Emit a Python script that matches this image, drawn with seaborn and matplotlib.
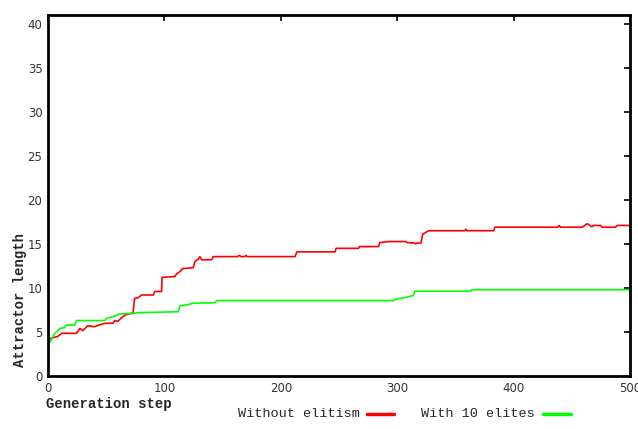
import numpy as np
import pandas as pd
import matplotlib
matplotlib.use("Agg")
import matplotlib.pyplot as plt
import seaborn as sns
from matplotlib.lines import Line2D

# data
gen_no_elite = [0, 3, 8.6, 11.6, 24.4, 27.3, 30, 34, 40, 44, 48.8, 56, 57.4, 60, 63, 66, 70.3, 73,
                74.4, 77.5, 80.3, 90.4, 91.8, 97.6, 98, 109, 110.5, 113.3, 115.6, 124.8, 126.2,
                129, 130.5, 132, 140.6, 142, 163, 164, 166, 169, 170, 171, 212.3, 213.8, 246.7,
                247.5, 266.8, 267.5, 284, 285, 292.6, 307.8, 308.4, 315, 316, 317, 320.4, 321.9,
                327, 358, 359, 360, 382.9, 383.8, 438, 439, 440.5, 459, 463.3, 467, 469, 474.7,
                476, 487.6, 489, 500]
len_no_elite = [4.1, 4.3, 4.5, 4.85, 4.85, 5.4, 5.15, 5.7, 5.6, 5.8, 5.98, 6.0, 6.3, 6.2, 6.6, 6.9,
                7.1, 7.1, 8.8, 8.9, 9.2, 9.2, 9.6, 9.6, 11.2, 11.3, 11.6, 11.85, 12.2, 12.3, 13.0,
                13.26, 13.56, 13.2, 13.2, 13.56, 13.56, 13.7, 13.56, 13.56, 13.7, 13.56, 13.56,
                14.1, 14.1, 14.5, 14.5, 14.7, 14.7, 15.15, 15.27, 15.27, 15.15, 15.1, 15.0, 15.1,
                15.1, 16.1, 16.5, 16.5, 16.67, 16.5, 16.5, 16.9, 16.9, 17.1, 16.9, 16.9, 17.3,
                16.95, 17.1, 17.1, 16.9, 16.9, 17.1, 17.1]

gen_elite = [0, 2.9, 5.7, 8.6, 10, 14.3, 15.8, 23, 24.4, 48.8, 50.2, 56, 61.7, 71.8, 78.9, 111.9,
             113.3, 119, 124.8, 143.4, 144.9, 296.6, 299.5, 306.6, 313.8, 315.3, 363.2, 364, 500]
len_elite = [3.6, 4.1, 4.85, 5.15, 5.4, 5.5, 5.8, 5.8, 6.3, 6.3, 6.55, 6.75, 7.05, 7.1, 7.2, 7.3,
             7.96, 8.07, 8.26, 8.33, 8.56, 8.56, 8.75, 8.9, 9.14, 9.64, 9.64, 9.8, 9.8]

series_names = ["Without elitism", "With 10 elites"]
series_colors = ["#ff0000", "#00ff00"]

df = pd.concat([
    pd.DataFrame({"gen": gen_no_elite, "length": len_no_elite, "run": series_names[0]}),
    pd.DataFrame({"gen": gen_elite, "length": len_elite, "run": series_names[1]}),
])

sns.set_style("white")
plt.rcParams["font.family"] = ["DejaVu Sans"]

fig = plt.figure(figsize=(6.38, 4.29), dpi=100)
ax = fig.add_axes([48 / 638, 1 - 376 / 429, 582 / 638, 361 / 429])

sns.lineplot(data=df, x="gen", y="length", hue="run", palette=series_colors,
             hue_order=series_names, linewidth=1.2, legend=False, ax=ax,
             estimator=None, sort=False)

ax.set_xlim(0, 500)
ax.set_ylim(0, 41)
ax.set_xticks(np.arange(0, 501, 100))
ax.set_yticks(np.arange(0, 41, 5))
ax.tick_params(direction="in", length=4, width=1.2, top=True, right=True,
               labeltop=False, labelright=False, labelsize=8.5, colors="black",
               labelcolor="#333333", pad=4)
for sp in ax.spines.values():
    sp.set_linewidth(2)
    sp.set_color("black")
ax.set_xlabel("")
ax.set_ylabel("")

mono = ["Liberation Mono", "DejaVu Sans Mono"]
fig.text(20 / 638, 1 - 300 / 429, "Attractor length", rotation=90, ha="center", va="center",
         family=mono, fontweight="bold", fontsize=10)
fig.text(46 / 638, 1 - 404 / 429, "Generation step", ha="left", va="center",
         family=mono, fontweight="bold", fontsize=10)

fig.text(360 / 638, 1 - 414 / 429, series_names[0], ha="right", va="center",
         family=mono, fontsize=9.7)
fig.text(535 / 638, 1 - 414 / 429, series_names[1], ha="right", va="center",
         family=mono, fontsize=9.7)
fig.add_artist(Line2D([367 / 638, 394 / 638], [1 - 414 / 429] * 2, color=series_colors[0],
                      linewidth=2.5, transform=fig.transFigure))
fig.add_artist(Line2D([543 / 638, 571 / 638], [1 - 414 / 429] * 2, color=series_colors[1],
                      linewidth=2.5, transform=fig.transFigure))

fig.savefig("out.png", dpi=100)
